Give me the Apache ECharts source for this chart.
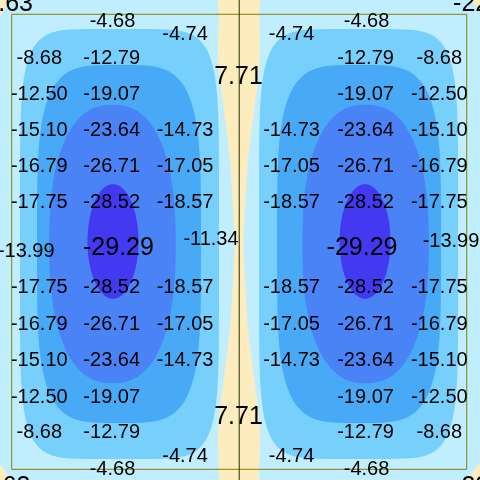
<!DOCTYPE html>
<html><head><meta charset="utf-8">
<script src="https://cdn.jsdelivr.net/npm/echarts@6/dist/echarts.min.js"></script>
<style>html,body{margin:0;padding:0;background:#c1eefe}#c{width:480px;height:480px}</style>
</head><body><div id="c"></div>
<script>
// Plate domain: the framed box is [0,100] x [0,100]
const xRange = [-2.57, 102.92];
const yRange = [-2.35, 103.14];
const frameX = [0, 100];
const frameY = [0, 100];
const centerLineX = 50;

// Contour band outlines of the left lobe (right lobe is its mirror about mirrorX)
const mirrorX = 49.96;
const bandColors = ['#77d0fc', '#48aaf7', '#4a83f5', '#4339f0'];
const bandCx = [23.69, 23.58, 22.15, 22.26];
const bandCy = [49.52, 49.52, 49.52, 50.07];
const bandRx = [21.87, 18.02, 13.9, 5.6];
const bandRy = [47.25, 39.34, 30.6, 12.6];
const bandPower = [6, 4, 2.4, 2];

// Positive strip along the centre line: y and half-width (top half, mirrored about stripMidY)
const stripColor = '#fdecbd';
const stripMidY = 49.52;
const stripY = [103.14, 100.07, 92.15, 85.56, 78.97, 67.98, 59.19, 49.52];
const stripHalfW = [4.40, 4.40, 4.62, 4.18, 3.30, 1.98, 1.43, 0.99];

// Small positive patches at the outer corners: [x, y] triangles
const cornerPatches = [
  [[-2.57, 103.14], [-0.59, 103.14], [-2.57, 99.4]],
  [[100.7, 103.14], [102.92, 103.14], [102.92, 100.95]],
  [[-2.57, 1.16], [-2.57, -2.35], [0.07, -2.35]],
  [[102.92, 1.6], [102.92, -2.35], [100.07, -2.35]]
];

// Contour labels: [x, y, value]
const contourLabels = [
  [22.15, 98.42, -4.68], [38.1, 95.67, -4.74], [61.5, 95.67, -4.74], [77.98, 98.42, -4.68],
  [6.07, 90.29, -8.68], [21.98, 90.29, -12.79], [77.76, 90.29, -12.79], [93.97, 90.29, -8.68],
  [6.07, 82.48, -12.50], [21.98, 82.48, -19.07], [77.76, 82.48, -19.07], [93.97, 82.48, -12.50],
  [6.07, 74.46, -15.10], [21.98, 74.46, -23.64], [38.1, 74.46, -14.73], [61.5, 74.46, -14.73], [77.76, 74.46, -23.64], [93.97, 74.46, -15.10],
  [6.07, 66.55, -16.79], [21.98, 66.55, -26.71], [38.1, 66.55, -17.05], [61.5, 66.55, -17.05], [77.76, 66.55, -26.71], [93.97, 66.55, -16.79],
  [6.07, 58.64, -17.75], [21.98, 58.64, -28.52], [38.1, 58.64, -18.57], [61.5, 58.64, -18.57], [77.76, 58.64, -28.52], [93.97, 58.64, -17.75],
  [3.2, 47.8, -13.99], [43.8, 50.4, -11.34], [96.55, 49.96, -13.99],
  [6.07, 39.96, -17.75], [21.98, 39.96, -28.52], [38.1, 39.96, -18.57], [61.5, 39.96, -18.57], [77.76, 39.96, -28.52], [93.97, 39.96, -17.75],
  [6.07, 31.82, -16.79], [21.98, 31.82, -26.71], [38.1, 31.82, -17.05], [61.5, 31.82, -17.05], [77.76, 31.82, -26.71], [93.97, 31.82, -16.79],
  [6.07, 23.91, -15.10], [21.98, 23.91, -23.64], [38.1, 23.91, -14.73], [61.5, 23.91, -14.73], [77.76, 23.91, -23.64], [93.97, 23.91, -15.10],
  [6.07, 15.78, -12.50], [21.98, 15.78, -19.07], [77.76, 15.78, -19.07], [93.97, 15.78, -12.50],
  [6.07, 8.09, -8.68], [21.98, 8.09, -12.79], [77.76, 8.09, -12.79], [93.97, 8.09, -8.68],
  [22.15, -0.04, -4.68], [38.1, 2.92, -4.74], [61.5, 2.92, -4.74], [77.98, -0.04, -4.68]
];
// Extreme-value labels: [x, y, value]
const peakLabels = [
  [49.85, 86.11, 7.71], [49.85, 11.5, 7.71],
  [23.47, 48.6, -29.29], [76.99, 48.6, -29.29],
  [-0.66, 102.26, 7.63], [104.8, 102.26, -22.63],
  [-1.25, -3.9, 7.63], [104.8, -3.9, -22.63]
];

const FONT = '"Liberation Sans", Arial, Helvetica, sans-serif';

function superEllipse(api, cx, cy, rx, ry, n) {
  const pts = [];
  const N = 180;
  for (let i = 0; i < N; i++) {
    const t = (i / N) * Math.PI * 2;
    const c = Math.cos(t), s = Math.sin(t);
    const x = cx + rx * Math.sign(c) * Math.pow(Math.abs(c), 2 / n);
    const y = cy + ry * Math.sign(s) * Math.pow(Math.abs(s), 2 / n);
    pts.push(api.coord([x, y]));
  }
  return pts;
}

// shapes: -1 = strip, -2 = corner patches, then bands (left, right) in order
const shapeItems = [[-1, 0], [-2, 0]];
for (let b = 0; b < bandCx.length; b++) { shapeItems.push([b, 0]); shapeItems.push([b, 1]); }

const chart = echarts.init(document.getElementById('c'), null, {renderer: 'canvas'});
chart.setOption({
  backgroundColor: '#c1eefe',
  animation: false,
  grid: {left: 0, right: 0, top: 0, bottom: 0},
  xAxis: {type: 'value', min: xRange[0], max: xRange[1], show: false},
  yAxis: {type: 'value', min: yRange[0], max: yRange[1], show: false},
  series: [
    {
      type: 'custom',
      data: shapeItems,
      silent: true,
      renderItem: function (params, api) {
        const b = api.value(0);
        const side = api.value(1);
        if (b === -1) {
          const left = [], right = [];
          for (let i = 0; i < stripY.length; i++) {
            left.push(api.coord([mirrorX - stripHalfW[i], stripY[i]]));
            right.push(api.coord([mirrorX + stripHalfW[i], stripY[i]]));
          }
          for (let i = stripY.length - 2; i >= 0; i--) {
            const y2 = 2 * stripMidY - stripY[i];
            left.push(api.coord([mirrorX - stripHalfW[i], y2]));
            right.push(api.coord([mirrorX + stripHalfW[i], y2]));
          }
          const pts = left.concat(right.reverse());
          return {type: 'polygon', shape: {points: pts, smooth: 0.3}, style: {fill: stripColor}};
        }
        if (b === -2) {
          return {type: 'group', children: cornerPatches.map(function (tri) {
            return {type: 'polygon', shape: {points: tri.map(function (p) { return api.coord(p); })},
                    style: {fill: stripColor}};
          })};
        }
        const cx = side === 0 ? bandCx[b] : 2 * mirrorX - bandCx[b];
        const pts = superEllipse(api, cx, bandCy[b], bandRx[b], bandRy[b], bandPower[b]);
        return {type: 'polygon', shape: {points: pts}, style: {fill: bandColors[b]}};
      }
    },
    {
      type: 'custom',
      data: [[0, 0]],
      silent: true,
      renderItem: function (params, api) {
        const p0 = api.coord([frameX[0], frameY[1]]);
        const p1 = api.coord([frameX[1], frameY[0]]);
        const l0 = api.coord([centerLineX, yRange[1]]);
        const l1 = api.coord([centerLineX, yRange[0]]);
        return {type: 'group', children: [
          {type: 'rect', shape: {x: p0[0], y: p0[1], width: p1[0] - p0[0], height: p1[1] - p0[1]},
           style: {fill: null, stroke: '#808000', lineWidth: 1}},
          {type: 'line', shape: {x1: l0[0], y1: l0[1], x2: l1[0], y2: l1[1]},
           style: {stroke: '#1f2f00', lineWidth: 1}}
        ]};
      }
    },
    {
      type: 'custom',
      data: contourLabels,
      silent: true,
      renderItem: function (params, api) {
        const p = api.coord([api.value(0), api.value(1)]);
        return {type: 'text', x: p[0], y: p[1], style: {
          text: api.value(2).toFixed(2), fill: '#000', font: '20px ' + FONT,
          align: 'center', verticalAlign: 'middle', textAlign: 'center', textVerticalAlign: 'middle'}};
      }
    },
    {
      type: 'custom',
      data: peakLabels,
      silent: true,
      renderItem: function (params, api) {
        const p = api.coord([api.value(0), api.value(1)]);
        return {type: 'text', x: p[0], y: p[1], style: {
          text: api.value(2).toFixed(2), fill: '#000', font: '25px ' + FONT,
          align: 'center', verticalAlign: 'middle', textAlign: 'center', textVerticalAlign: 'middle'}};
      }
    }
  ]
});
</script></body></html>
